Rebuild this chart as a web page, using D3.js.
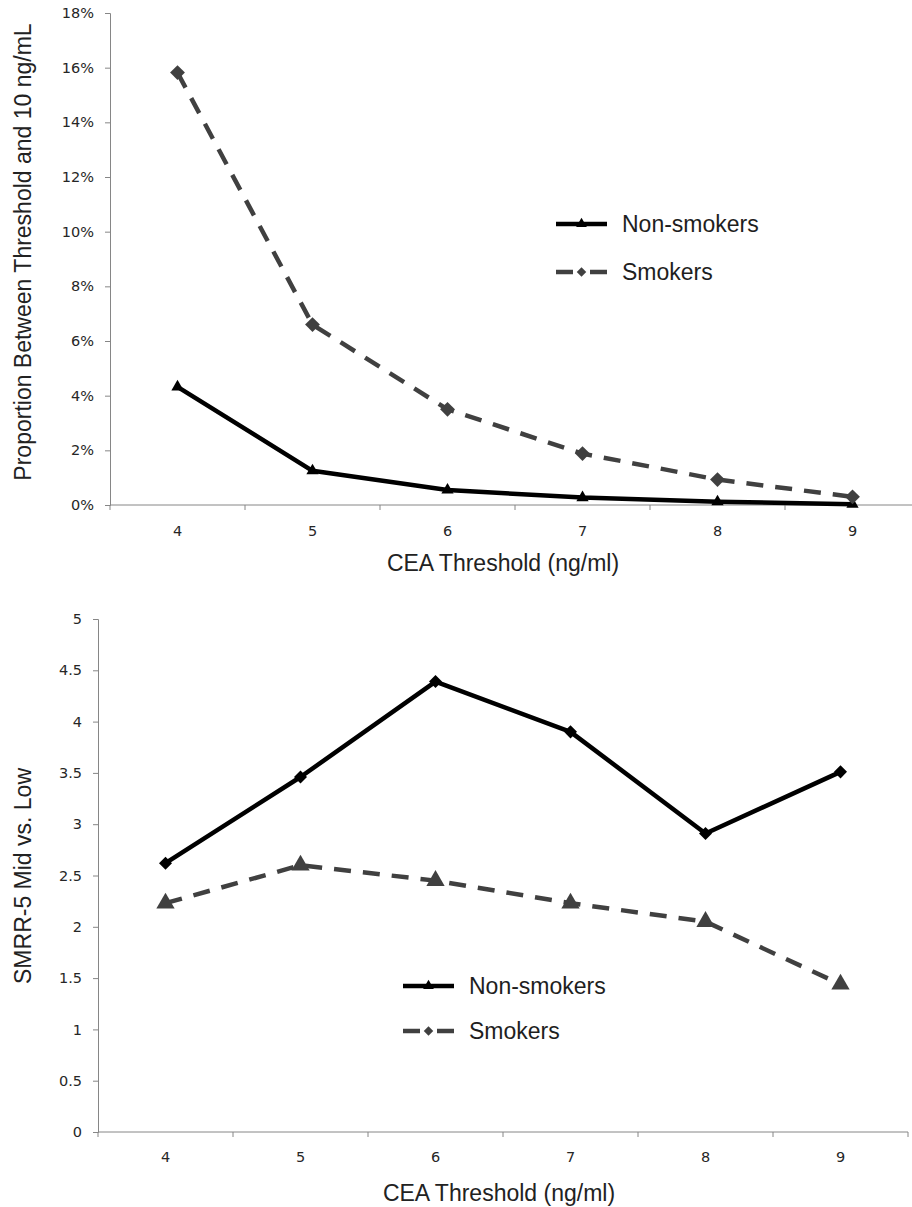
<!DOCTYPE html>
<html>
<head>
<meta charset="utf-8">
<script src="https://cdn.jsdelivr.net/npm/d3@7"></script>
<style>
    body { margin: 0; background: white; }
    .axisLabel { font-family: "Liberation Sans", Arial, sans-serif; font-size: 23px; fill: #222222; }
    .legendText { font-family: "Liberation Sans", Arial, sans-serif; font-size: 23px; fill: #1e1e1e; }
</style>
</head>
<body>
<div id="chart"></div>
<script>

// DATA
const thresholds = ["4", "5", "6", "7", "8", "9"];

// top panel: proportion between threshold and 10 ng/mL (%)
const propNonSmokers = [4.32, 1.25, 0.55, 0.27, 0.12, 0.03];
const propSmokers = [15.82, 6.6, 3.5, 1.88, 0.93, 0.3];
const propTicks = [0, 2, 4, 6, 8, 10, 12, 14, 16, 18];

// bottom panel: SMRR-5 mid vs. low
const smrrNonSmokers = [2.62, 3.46, 4.39, 3.9, 2.91, 3.51];
const smrrSmokers = [2.23, 2.6, 2.45, 2.23, 2.05, 1.44];
const smrrTicks = [0, 0.5, 1, 1.5, 2, 2.5, 3, 3.5, 4, 4.5, 5];

const seriesNames = ["Non-smokers", "Smokers"];


//1. SVG CANVAS
const width = 912;
const height = 1207;

const svg = d3.select("#chart")
    .append("svg")
    .attr("width", width)
    .attr("height", height);

const axisColor = "#868686";
const smokerColor = "#404040";
const tickFont = "'DejaVu Sans', Verdana, sans-serif";
const tickSize = "14.5px";

const triangle = d3.symbol().type(d3.symbolTriangle);
const diamond = d3.symbol().type(d3.symbolSquare);


//2. HELPER THAT DRAWS ONE PANEL
function drawPanel(opts) {

    const xScale = d3.scaleBand()
        .domain(thresholds)
        .range([opts.left, opts.right])
        .padding(0);

    const yScale = d3.scaleLinear()
        .domain([0, d3.max(opts.yTicks)])
        .range([opts.bottom, opts.top]);

    const xMid = function(d) { return xScale(d) + xScale.bandwidth() / 2; };

    // y axis
    const yAxis = svg.append("g")
        .attr("transform", `translate(${opts.left},0)`)
        .call(d3.axisLeft(yScale)
            .tickValues(opts.yTicks)
            .tickFormat(opts.yFormat)
            .tickSizeOuter(0)
            .tickSize(5)
            .tickPadding(11));
    yAxis.selectAll("path, line").attr("stroke", axisColor);
    yAxis.selectAll("text")
        .style("font-family", tickFont)
        .style("font-size", tickSize)
        .style("fill", "#262626");

    // x axis: ticks on band edges, labels in the band centres
    const xAxis = svg.append("g")
        .attr("transform", `translate(0,${opts.bottom})`);

    xAxis.append("line")
        .attr("x1", opts.left)
        .attr("x2", opts.right)
        .attr("stroke", axisColor);

    xAxis.selectAll(".edge")
        .data(thresholds.concat(["end"]))
        .enter()
        .append("line")
            .attr("class", "edge")
            .attr("x1", function(d) { return d === "end" ? opts.right : xScale(d); })
            .attr("x2", function(d) { return d === "end" ? opts.right : xScale(d); })
            .attr("y1", 0)
            .attr("y2", 5)
            .attr("stroke", axisColor);

    xAxis.selectAll(".xlabel")
        .data(thresholds)
        .enter()
        .append("text")
            .attr("class", "xlabel")
            .attr("x", xMid)
            .attr("y", opts.xLabelOffset)
            .attr("dy", "0.71em")
            .attr("text-anchor", "middle")
            .style("font-family", tickFont)
            .style("font-size", tickSize)
            .style("fill", "#262626")
            .text(function(d) { return d; });

    // lines
    const line = d3.line()
        .x(function(d, i) { return xMid(thresholds[i]); })
        .y(function(d) { return yScale(d); });

    svg.append("path")
        .datum(opts.solid)
        .attr("d", line)
        .attr("fill", "none")
        .attr("stroke", "black")
        .attr("stroke-width", 4.5)
        .attr("stroke-linejoin", "round");

    svg.append("path")
        .datum(opts.dashed)
        .attr("d", line)
        .attr("fill", "none")
        .attr("stroke", smokerColor)
        .attr("stroke-width", 4.5)
        .attr("stroke-dasharray", "17,12");

    // markers
    svg.selectAll(null)
        .data(opts.solid)
        .enter()
        .append("path")
            .attr("d", opts.solidMarker.size(opts.solidSize))
            .attr("transform", function(d, i) {
                return `translate(${xMid(thresholds[i])},${yScale(d)}) rotate(${opts.solidRotate})`;
            })
            .attr("fill", "black");

    svg.selectAll(null)
        .data(opts.dashed)
        .enter()
        .append("path")
            .attr("d", opts.dashedMarker.size(opts.dashedSize))
            .attr("transform", function(d, i) {
                return `translate(${xMid(thresholds[i])},${yScale(d)}) rotate(${opts.dashedRotate})`;
            })
            .attr("fill", smokerColor);

    // axis labels
    svg.append("text")
        .attr("class", "axisLabel")
        .attr("x", opts.xTitleX)
        .attr("y", opts.xTitleY)
        .attr("text-anchor", "middle")
        .text("CEA Threshold (ng/ml)");

    svg.append("text")
        .attr("class", "axisLabel")
        .attr("transform", "rotate(-90)")
        .attr("x", -opts.yTitleMid)
        .attr("y", 31)
        .attr("text-anchor", "middle")
        .text(opts.yTitle);

    // legend (always: solid + triangle, dashed + diamond)
    const legend = svg.append("g")
        .attr("transform", `translate(${opts.legendX},${opts.legendY})`);

    legend.append("line")
        .attr("x1", 0).attr("x2", 51)
        .attr("y1", 0).attr("y2", 0)
        .attr("stroke", "black")
        .attr("stroke-width", 4.5);
    legend.append("path")
        .attr("d", d3.symbol().type(d3.symbolTriangle).size(50))
        .attr("transform", "translate(25.5,0)")
        .attr("fill", "black");
    legend.append("text")
        .attr("class", "legendText")
        .attr("x", 66)
        .attr("y", 8)
        .text(seriesNames[0]);

    legend.append("line")
        .attr("x1", 0).attr("x2", 51)
        .attr("y1", opts.legendGap).attr("y2", opts.legendGap)
        .attr("stroke", smokerColor)
        .attr("stroke-width", 4.5)
        .attr("stroke-dasharray", "17,17");
    legend.append("path")
        .attr("d", d3.symbol().type(d3.symbolSquare).size(45))
        .attr("transform", `translate(25.5,${opts.legendGap}) rotate(45)`)
        .attr("fill", smokerColor);
    legend.append("text")
        .attr("class", "legendText")
        .attr("x", 66)
        .attr("y", opts.legendGap + 8)
        .text(seriesNames[1]);
}


//3. TOP PANEL
drawPanel({
    left: 110, right: 920, top: 13, bottom: 505,
    yTicks: propTicks,
    yFormat: function(d) { return d + "%"; },
    xLabelOffset: 21,
    solid: propNonSmokers, solidMarker: triangle, solidSize: 65, solidRotate: 0,
    dashed: propSmokers, dashedMarker: diamond, dashedSize: 110, dashedRotate: 45,
    xTitleX: 503, xTitleY: 571,
    yTitle: "Proportion Between Threshold and 10 ng/mL", yTitleMid: 252,
    legendX: 556, legendY: 224, legendGap: 48
});


//4. BOTTOM PANEL (markers as in the original figure)
drawPanel({
    left: 98, right: 908, top: 619, bottom: 1132,
    yTicks: smrrTicks,
    yFormat: function(d) { return d; },
    xLabelOffset: 20,
    solid: smrrNonSmokers, solidMarker: diamond, solidSize: 85, solidRotate: 45,
    dashed: smrrSmokers, dashedMarker: triangle, dashedSize: 145, dashedRotate: 0,
    xTitleX: 499, xTitleY: 1201,
    yTitle: "SMRR-5 Mid vs. Low", yTitleMid: 876,
    legendX: 403, legendY: 986, legendGap: 45
});

</script>
</body>
</html>
